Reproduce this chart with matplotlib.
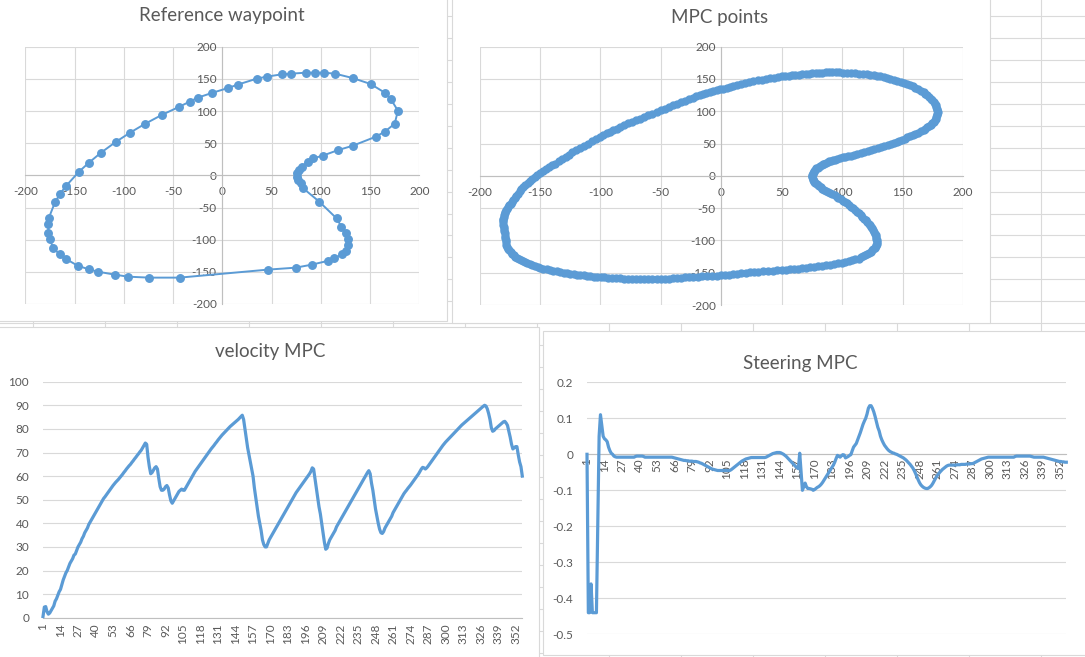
import matplotlib
matplotlib.use('Agg')
import matplotlib.pyplot as plt
from matplotlib.lines import Line2D
from matplotlib.patches import Rectangle

plt.rcParams['font.family'] = ['Lato', 'DejaVu Sans']
plt.rcParams['axes.unicode_minus'] = False

# ---------------- data ----------------
ref_x = [75.5, 77.2, 79.6, 82.2, 98.5, 116.1, 121, 126, 128, 128, 126, 122, 113, 107, 90.7, 74.5, 46,
         -43.3, -74.5, -95.8, -109, -126.6, -135.7, -146.9, -158.7, -164.8, -171.6, -175, -176.6, -176.6,
         -176, -169.9, -164.8, -158.7, -145.5, -135.4, -123.2, -108.3, -93.7, -78.8, -61.6, -44.3, -33.2,
         -25, -10.8, 5.8, 15.6, 34.9, 45, 60.2, 69.4, 84.6, 93.7, 103.2, 114.7, 132.3, 150.6, 165, 171,
         178.3, 175, 165, 155.7, 132.4, 117.8, 101.9, 92.4, 87.3, 80.6, 78.2, 76.1]
ref_y = [-2, -7.3, -12.4, -20.2, -41, -67, -80, -89, -99.5, -108, -117, -123, -129, -133, -138.9, -143.5,
         -146.6, -159, -159, -157.5, -154.4, -149.7, -146, -140.4, -130, -122.8, -113.5, -99.5, -89, -76,
         -65.8, -42, -29, -16.6, 5.7, 19.7, 35.2, 51.8, 66.3, 79.8, 93.8, 106.2, 114.5, 120.7, 128, 135.8,
         141, 150.3, 153.4, 157, 158, 159.6, 159.6, 159.6, 158, 151.3, 142, 128.5, 118.7, 100.5, 80.3, 67.9,
         60, 46, 39.4, 30.6, 26.5, 21.3, 13.5, 8.3, 3.1]

mpc_x = [
    -180.7, -180.5, -180.3, -180.05, -179.8, -179.4, -179, -178.8, -178.6, -178.35, -178.1, -177.75,
    -177.4, -176.3, -175.2, -174.1, -173, -171.85, -170.7, -169, -167.3, -165.65, -164, -162.35,
    -160.7, -158.45, -156.2, -154, -151.8, -149.55, -147.3, -144.5, -141.7, -138.9, -136.1, -133.3,
    -130.5, -127.7, -124.9, -122.15, -119.4, -116.6, -113.8, -111, -108.2, -105.4, -102.6, -99.8,
    -97, -93.65, -90.3, -87, -83.7, -80.35, -77, -73.65, -70.3, -66.95, -63.6, -60.25,
    -56.9, -53.55, -50.2, -46.85, -43.5, -40.15, -36.8, -33.45, -30.1, -26.75, -23.4, -19.5,
    -15.6, -11.7, -7.8, -3.9, 0, 3.35, 6.7, 10.05, 13.4, 16.75, 20.1, 23.45,
    26.8, 30.7, 34.6, 38.5, 42.4, 46.3, 50.2, 53.55, 56.9, 60.25, 63.6, 66.95,
    70.3, 73.65, 77, 80.35, 83.7, 87, 90.3, 93.65, 97, 99.8, 102.6, 105.4,
    108.2, 111, 113.8, 115.45, 117.1, 118.8, 120.5, 122.15, 123.8, 124.85, 125.9, 126.85,
    127.8, 128.35, 128.9, 128.8, 128.7, 128.4, 128.1, 127.65, 127.2, 126.5, 125.8, 124.95,
    124.1, 123.15, 122.2, 120.85, 119.5, 118.1, 116.7, 115.25, 113.8, 112.15, 110.5, 108.8,
    107.1, 105.45, 103.8, 102.1, 100.4, 98.7, 97, 95.35, 93.7, 92, 90.3, 88.65,
    87, 85.35, 83.7, 82.45, 81.2, 80.05, 78.9, 77.95, 77, 76.4, 75.8, 75.5,
    75.2, 75.25, 75.3, 75.65, 76, 76.55, 77.1, 77.9, 78.7, 79.75, 80.8, 81.9,
    83, 84.2, 85.4, 86.8, 88.2, 89.55, 90.9, 92.3, 93.7, 95.9, 98.1, 100.35,
    102.6, 104.8, 107, 109.8, 112.6, 115.4, 118.2, 121, 123.8, 126.6, 129.4, 132.2,
    135, 137.8, 140.6, 142.85, 145.1, 147.3, 149.5, 151.75, 154, 156.25, 158.5, 160.7,
    162.9, 165.15, 167.4, 168.9, 170.4, 171.8, 173.2, 174.45, 175.7, 176.55, 177.4, 177.95,
    178.5, 178.75, 179, 178.7, 178.4, 177.85, 177.3, 176.5, 175.7, 174.45, 173.2, 171.8,
    170.4, 168.9, 167.4, 165.15, 162.9, 160.7, 158.5, 156.25, 154, 151.2, 148.4, 145.6,
    142.8, 140, 137.2, 134.4, 131.6, 128.85, 126.1, 123.3, 120.5, 117.15, 113.8, 110.45,
    107.1, 103.75, 100.4, 97.6, 94.8, 92, 89.2, 86.45, 83.7, 80.9, 78.1, 75.35,
    72.6, 69.8, 67, 64.2, 61.4, 58.6, 55.8, 53, 50.2, 46.85, 43.5, 40.1,
    36.7, 33.35, 30, 26.65, 23.3, 20, 16.7, 13.35, 10, 7.2, 4.4, 1.65,
    -1.1, -3.9, -6.7, -9.5, -12.3, -15.05, -17.8, -20.6, -23.4, -26.75, -30.1, -33.45,
    -36.8, -40.15, -43.5, -46.85, -50.2, -53.55, -56.9, -60.25, -63.6, -66.95, -70.3, -73.65,
    -77, -80.35, -83.7, -86.5, -89.3, -92.05, -94.8, -97.6, -100.4, -103.75, -107.1, -110.45,
    -113.8, -117.15, -120.5, -123.3, -126.1, -128.85, -131.6, -134.4, -137.2, -139.7, -142.2, -144.75,
    -147.3, -149.8, -152.3, -154.25, -156.2, -158.15, -160.1, -162.05, -164, -165.4, -166.8, -168.2,
    -169.6, -171, -172.4, -173.35, -174.3, -175.2, -176.1, -177.05, -178, -178.5, -179, -179.5,
    -180, -180.35]
mpc_y = [
    -68.6, -72.05, -75.5, -78.9, -82.3, -85.65, -89, -92.5, -96, -99.5, -103, -106.5,
    -110, -112.75, -115.5, -118.05, -120.6, -123, -125.4, -127.2, -129, -130.75, -132.5, -134.1,
    -135.7, -137.05, -138.4, -139.7, -141, -142.25, -143.5, -144.65, -145.8, -146.9, -148, -149.1,
    -150.2, -150.9, -151.6, -152.3, -153, -153.65, -154.3, -154.85, -155.4, -155.9, -156.4, -156.9,
    -157.4, -157.75, -158.1, -158.45, -158.8, -159.15, -159.5, -159.6, -159.7, -159.75, -159.8, -159.85,
    -159.9, -159.95, -160, -159.6, -159.2, -158.7, -158.2, -157.75, -157.3, -156.85, -156.4, -156.05,
    -155.7, -155.35, -155, -154.65, -154.3, -153.65, -153, -152.3, -151.6, -150.95, -150.3, -149.65,
    -149, -148.5, -148, -147.5, -147, -146.5, -146, -145.4, -144.8, -144.15, -143.5, -142.85,
    -142.2, -141.6, -141, -140.25, -139.5, -138.5, -137.5, -136.6, -135.7, -134.55, -133.4, -132.1,
    -130.8, -129.4, -128, -126.35, -124.7, -123, -121.3, -119.5, -117.7, -115.55, -113.4, -111.25,
    -109.1, -106.95, -104.8, -102.2, -99.6, -97.05, -94.5, -91.9, -89.3, -86.7, -84.1, -81.5,
    -78.9, -76.35, -73.8, -71.2, -68.6, -66.05, -63.5, -60.9, -58.3, -55.7, -53.1, -50.55,
    -48, -45.4, -42.8, -40.65, -38.5, -36.4, -34.3, -32.15, -30, -28.25, -26.5, -24.75,
    -23, -21.3, -19.6, -17.9, -16.2, -14.5, -12.8, -11.05, -9.3, -7.6, -5.9, -4.15,
    -2.4, -0.7, 1, 2.75, 4.5, 6.25, 8, 9.7, 11.4, 12.75, 14.1, 15.35,
    16.6, 17.8, 19, 20.1, 21.2, 22.25, 23.3, 24.3, 25.3, 26.35, 27.4, 28.45,
    29.5, 30.5, 31.5, 32.85, 34.2, 35.6, 37, 38.35, 39.7, 41.25, 42.8, 44.35,
    45.9, 47.45, 49, 50.75, 52.5, 54.2, 55.9, 57.65, 59.4, 61.3, 63.2, 65.05,
    66.9, 68.8, 70.7, 72.85, 75, 77.15, 79.3, 81.45, 83.6, 86.15, 88.7, 91.3,
    93.9, 96.45, 99, 101.6, 104.2, 106.8, 109.4, 112, 114.6, 117.15, 119.7, 122.3,
    124.9, 127.45, 130, 132.15, 134.3, 136.5, 138.7, 140.85, 143, 144.55, 146.1, 147.65,
    149.2, 150.75, 152.3, 153.15, 154, 154.85, 155.7, 156.55, 157.4, 157.85, 158.3, 158.7,
    159.1, 159.55, 160, 160.1, 160.2, 160.15, 160.1, 160.05, 160, 159.6, 159.2, 158.75,
    158.3, 157.85, 157.4, 156.9, 156.4, 155.85, 155.3, 154.8, 154.3, 153.25, 152.2, 151.15,
    150.1, 149.05, 148, 146.5, 145, 143.45, 141.9, 140.35, 138.8, 137.6, 136.4, 135.2,
    134, 132.8, 131.6, 129.9, 128.2, 126.45, 124.7, 123, 121.3, 118.9, 116.5, 114.05,
    111.6, 109.2, 106.8, 104.25, 101.7, 99.1, 96.5, 93.95, 91.4, 88.8, 86.2, 83.65,
    81.1, 78.5, 75.9, 73.3, 70.7, 68.15, 65.6, 63, 60.4, 56.95, 53.5, 50.05,
    46.6, 43.15, 39.7, 36.25, 32.8, 29.4, 26, 22.55, 19.1, 16.1, 13.1, 10.05,
    7, 4, 1, -2, -5, -8, -11, -14, -17, -20.45, -23.9, -27.35,
    -30.8, -34.25, -37.7, -40.3, -42.9, -45.45, -48, -50.6, -53.2, -55.75, -58.3, -60.9,
    -63.5, -66.05]

velocity = [
    0.5, 4.5, 4.7, 2.5, 1.5, 2, 3, 4, 5, 7, 8, 9.5, 11,
    12, 14, 16, 17.5, 19, 20, 21.5, 23, 24, 25, 26.5, 27, 28.5,
    30, 31, 32, 33.5, 34.5, 36, 37, 38, 39.5, 40.5, 41.5, 42.5, 43.5,
    44.5, 45.5, 46.5, 47.5, 48.5, 49.5, 50.5, 51.2, 52, 52.8, 53.6, 54.4, 55.2,
    56, 56.7, 57.4, 58, 58.6, 59.3, 60, 60.7, 61.5, 62.2, 63, 63.7, 64.4,
    65, 65.8, 66.5, 67.3, 68, 68.8, 69.5, 70.3, 71, 72, 73, 74, 73.5,
    68, 64, 61, 61.5, 62.5, 63.5, 64, 63, 59, 55.5, 54, 54, 54.5,
    55.5, 56, 55, 52, 49.5, 48.5, 49.5, 50.5, 51.5, 52.5, 53.5, 54, 54.5,
    54, 54, 55, 56, 57, 58, 59, 60, 61, 62, 62.8, 63.6, 64.4,
    65.2, 66, 66.8, 67.6, 68.4, 69.2, 70, 70.8, 71.6, 72.3, 73, 73.8, 74.5,
    75.3, 76, 76.7, 77.4, 78, 78.6, 79.2, 79.8, 80.4, 81, 81.5, 82, 82.5,
    83, 83.5, 84, 84.6, 85.2, 85.8, 84, 80, 76, 72, 69, 66, 63,
    60, 55, 51, 47, 43, 40, 37, 33, 31, 30, 30, 31.5, 33,
    34, 35, 36, 37, 38, 39, 40, 41, 42, 43, 44, 45, 46,
    47, 48, 49, 50, 51, 52, 53, 53.8, 54.6, 55.4, 56.2, 57, 57.8,
    58.6, 59.4, 60.2, 61, 62, 63.5, 63, 59, 55, 51, 47, 44, 40,
    36, 32, 29, 29.5, 31.5, 33, 34, 35, 36, 37, 38.5, 39.5, 40.5,
    41.5, 42.5, 43.5, 44.5, 45.5, 46.5, 47.5, 48.5, 49.5, 50.5, 51.5, 52.5, 53.5,
    54.5, 55.5, 56.5, 57.5, 58.5, 59.5, 60.5, 61.5, 62.3, 61, 57, 54, 50,
    46, 43, 40, 37.5, 36, 35.7, 36.5, 38, 39, 40, 41, 42, 43,
    44.5, 45.5, 46.5, 47.5, 48.5, 49.5, 50.5, 51.5, 52.5, 53.3, 54, 54.8, 55.5,
    56.2, 57, 57.8, 58.6, 59.4, 60.2, 61, 62, 63, 63.7, 63.5, 63, 63.5,
    64.2, 65, 65.8, 66.6, 67.4, 68.2, 69, 69.8, 70.6, 71.4, 72.2, 73, 73.7,
    74.4, 75, 75.6, 76.2, 76.8, 77.4, 78, 78.6, 79.2, 79.8, 80.4, 81, 81.6,
    82.1, 82.6, 83.1, 83.6, 84.1, 84.6, 85.1, 85.6, 86.1, 86.6, 87.1, 87.6, 88.1,
    88.6, 89.1, 89.6, 90, 89.7, 88.5, 86.5, 84, 80.5, 79, 79.3, 80, 80.5,
    81, 81.5, 82, 82.5, 83, 83.2, 82.5, 81.5, 79, 76.5, 73.5, 71.5, 72,
    72.5, 72.5, 69, 66, 64, 60]

steering = [
    0, -0.44, -0.44, -0.36, -0.44, -0.44, -0.44, -0.44, -0.2, 0.05, 0.11, 0.08, 0.05,
    0.043, 0.04, 0.035, 0.02, 0.01, 0.003, 0, -0.005, -0.007, -0.008, -0.008, -0.008, -0.008,
    -0.008, -0.008, -0.008, -0.008, -0.008, -0.008, -0.008, -0.008, -0.008, -0.008, -0.006, -0.005, -0.005,
    -0.005, -0.005, -0.005, -0.006, -0.008, -0.008, -0.008, -0.008, -0.008, -0.008, -0.008, -0.008, -0.008,
    -0.008, -0.008, -0.008, -0.008, -0.008, -0.008, -0.008, -0.008, -0.008, -0.008, -0.008, -0.008, -0.009,
    -0.01, -0.011, -0.012, -0.013, -0.014, -0.015, -0.016, -0.017, -0.017, -0.018, -0.018, -0.019, -0.019,
    -0.019, -0.02, -0.02, -0.02, -0.021, -0.022, -0.024, -0.025, -0.027, -0.029, -0.031, -0.033, -0.035,
    -0.037, -0.039, -0.041, -0.042, -0.043, -0.044, -0.045, -0.045, -0.045, -0.045, -0.045, -0.045, -0.045,
    -0.045, -0.045, -0.045, -0.043, -0.04, -0.037, -0.034, -0.031, -0.028, -0.025, -0.022, -0.019, -0.017,
    -0.015, -0.013, -0.012, -0.011, -0.01, -0.009, -0.009, -0.009, -0.009, -0.009, -0.009, -0.009, -0.009,
    -0.009, -0.009, -0.009, -0.008, -0.006, -0.004, -0.002, 0, 0.002, 0.003, 0.004, 0.005, 0.005,
    0.005, 0.004, 0.002, 0, -0.003, -0.006, -0.01, -0.014, -0.018, -0.022, -0.026, -0.03, -0.034,
    -0.037, -0.04, 0.003, -0.05, -0.1, -0.09, -0.08, -0.09, -0.095, -0.095, -0.096, -0.097, -0.1,
    -0.098, -0.095, -0.092, -0.09, -0.087, -0.083, -0.078, -0.072, -0.066, -0.06, -0.054, -0.048, -0.042,
    -0.036, -0.03, -0.022, -0.012, -0.003, -0.005, -0.008, -0.004, -0.001, -0.002, -0.01, -0.008, -0.006,
    -0.003, -0.001, 0.01, 0.02, 0.025, 0.03, 0.04, 0.05, 0.06, 0.072, 0.083, 0.092, 0.1,
    0.112, 0.128, 0.135, 0.135, 0.128, 0.118, 0.105, 0.09, 0.075, 0.065, 0.05, 0.04, 0.032,
    0.025, 0.02, 0.015, 0.011, 0.008, 0.006, 0.004, 0.003, 0.001, 0, -0.002, -0.004, -0.006,
    -0.008, -0.01, -0.013, -0.016, -0.02, -0.024, -0.028, -0.033, -0.038, -0.045, -0.053, -0.062, -0.071,
    -0.079, -0.085, -0.089, -0.092, -0.094, -0.095, -0.095, -0.093, -0.09, -0.086, -0.08, -0.073, -0.066,
    -0.06, -0.055, -0.05, -0.046, -0.042, -0.039, -0.036, -0.033, -0.031, -0.03, -0.03, -0.03, -0.03,
    -0.03, -0.03, -0.029, -0.029, -0.029, -0.028, -0.028, -0.028, -0.028, -0.027, -0.027, -0.027, -0.026,
    -0.026, -0.025, -0.023, -0.021, -0.019, -0.017, -0.015, -0.013, -0.012, -0.011, -0.01, -0.009, -0.008,
    -0.008, -0.008, -0.008, -0.008, -0.008, -0.008, -0.008, -0.008, -0.008, -0.008, -0.008, -0.008, -0.008,
    -0.008, -0.008, -0.008, -0.008, -0.008, -0.008, -0.006, -0.005, -0.005, -0.005, -0.005, -0.005, -0.005,
    -0.005, -0.005, -0.005, -0.005, -0.005, -0.006, -0.007, -0.008, -0.008, -0.008, -0.008, -0.008, -0.008,
    -0.008, -0.008, -0.009, -0.01, -0.011, -0.012, -0.013, -0.014, -0.015, -0.016, -0.017, -0.018, -0.019,
    -0.02, -0.02, -0.021, -0.021, -0.022, -0.022]

scatter_ticks = [-200, -150, -100, -50, 0, 50, 100, 150, 200]
velocity_ticks = [0, 10, 20, 30, 40, 50, 60, 70, 80, 90, 100]
steering_ticks = [-0.5, -0.4, -0.3, -0.2, -0.1, 0, 0.1, 0.2]
steering_tick_labels = ['-0.5', '-0.4', '-0.3', '-0.2', '-0.1', '0', '0.1', '0.2']
category_labels = [1, 14, 27, 40, 53, 66, 79, 92, 105, 118, 131, 144, 157, 170, 183, 196, 209,
                   222, 235, 248, 261, 274, 287, 300, 313, 326, 339, 352]
titles = ['Reference waypoint', 'MPC points', 'velocity MPC', 'Steering MPC']

# ---------------- styling ----------------
W, H = 1085, 657
BLUE = '#5B9BD5'
GRID = '#D9D9D9'
AXIS = '#BFBFBF'
TXT = '#595959'
CELL = '#DADADA'

fig = plt.figure(figsize=(W / 100, H / 100), dpi=100)
fig.patch.set_facecolor('white')


def fx(px):
    return px / W


def fy(py):
    return 1 - py / H


# spreadsheet cell grid behind the charts
for k in range(31):
    yy = 16 + 21.95 * k
    fig.add_artist(Line2D([0, 1], [fy(yy), fy(yy)], color=CELL, lw=0.8, zorder=0))
for k in range(15):
    xx = 32.7 + 72 * k
    fig.add_artist(Line2D([fx(xx), fx(xx)], [0, 1], color=CELL, lw=0.8, zorder=0))


def chart_box(x0, y0, x1, y1):
    fig.add_artist(Rectangle((fx(x0), fy(y1)), fx(x1) - fx(x0), fy(y0) - fy(y1),
                             transform=fig.transFigure, facecolor='white',
                             edgecolor='#D9D9D9', lw=0.8, zorder=1))


def make_axes(x0, y0, x1, y1):
    ax = fig.add_axes([fx(x0), fy(y1), fx(x1) - fx(x0), fy(y0) - fy(y1)], zorder=2)
    ax.patch.set_alpha(0)
    return ax


def title(text, cx, cy):
    fig.text(fx(cx), fy(cy), text, ha='center', va='center', fontsize=13.5, color=TXT, zorder=3)


chart_box(-2, -2, 447, 321)
chart_box(452, -2, 990, 323)
chart_box(-2, 327, 539, 660)
chart_box(543, 331, 1088, 655)


def scatter_axes(ax):
    ax.set_xlim(-200, 200)
    ax.set_ylim(-200, 200)
    ax.set_xticks(scatter_ticks)
    ax.set_yticks(scatter_ticks)
    ax.grid(True, color=GRID, lw=0.8)
    ax.set_axisbelow(True)
    for s in ['top', 'right']:
        ax.spines[s].set_visible(False)
    ax.spines['bottom'].set_position(('data', 0))
    ax.spines['left'].set_position(('data', 0))
    for s in ['bottom', 'left']:
        ax.spines[s].set_color(AXIS)
        ax.spines[s].set_linewidth(0.8)
    ax.tick_params(length=0, labelsize=8.5, labelcolor=TXT)
    ax.tick_params(axis='x', pad=8)
    ax.tick_params(axis='y', pad=4)


# Chart 1: reference waypoints
ax1 = make_axes(25.3, 46.7, 419.3, 304)
scatter_axes(ax1)
ax1.plot(ref_x, ref_y, color=BLUE, lw=1.4, marker='o', ms=5.4, clip_on=False, zorder=3)
title(titles[0], 222, 16)

# Chart 2: MPC points
ax2 = make_axes(479.5, 46.7, 963, 305)
scatter_axes(ax2)
ax2.plot(mpc_x, mpc_y, ls='none', color=BLUE, marker='o', ms=5.0, clip_on=False, zorder=3)
title(titles[1], 720, 17)

idx = list(range(1, len(velocity) + 1))

# Chart 3: velocity
ax3 = make_axes(43, 381.7, 522.3, 617.7)
ax3.set_xlim(1, 357)
ax3.set_ylim(0, 100)
ax3.set_yticks(velocity_ticks)
ax3.set_xticks(category_labels)
ax3.yaxis.grid(True, color=GRID, lw=0.8)
ax3.set_axisbelow(True)
for s in ['top', 'right', 'left']:
    ax3.spines[s].set_visible(False)
ax3.spines['bottom'].set_color(AXIS)
ax3.spines['bottom'].set_linewidth(0.8)
ax3.tick_params(length=0, labelsize=8.5, labelcolor=TXT)
ax3.tick_params(axis='y', pad=10)
ax3.tick_params(axis='x', rotation=90, pad=4)
ax3.plot(idx, velocity, color=BLUE, lw=2.3, solid_joinstyle='round', clip_on=False, zorder=3)
title(titles[2], 270, 352)

# Chart 4: steering
sidx = list(range(1, len(steering) + 1))
ax4 = make_axes(587, 382.3, 1066.3, 634.3)
ax4.set_xlim(1, 357)
ax4.set_ylim(-0.5, 0.2)
ax4.set_yticks(steering_ticks)
ax4.set_yticklabels(steering_tick_labels)
ax4.set_xticks(category_labels)
ax4.yaxis.grid(True, color=GRID, lw=0.8)
ax4.set_axisbelow(True)
for s in ['top', 'right', 'left']:
    ax4.spines[s].set_visible(False)
ax4.spines['bottom'].set_position(('data', 0))
ax4.spines['bottom'].set_color(AXIS)
ax4.spines['bottom'].set_linewidth(0.8)
ax4.tick_params(length=0, labelsize=8.5, labelcolor=TXT)
ax4.tick_params(axis='y', pad=10)
ax4.tick_params(axis='x', rotation=90, pad=3)
ax4.plot(sidx, steering, color=BLUE, lw=2.3, solid_joinstyle='round', clip_on=False, zorder=3)
title(titles[3], 800, 364)

fig.savefig('out.png', dpi=100, facecolor='white')
